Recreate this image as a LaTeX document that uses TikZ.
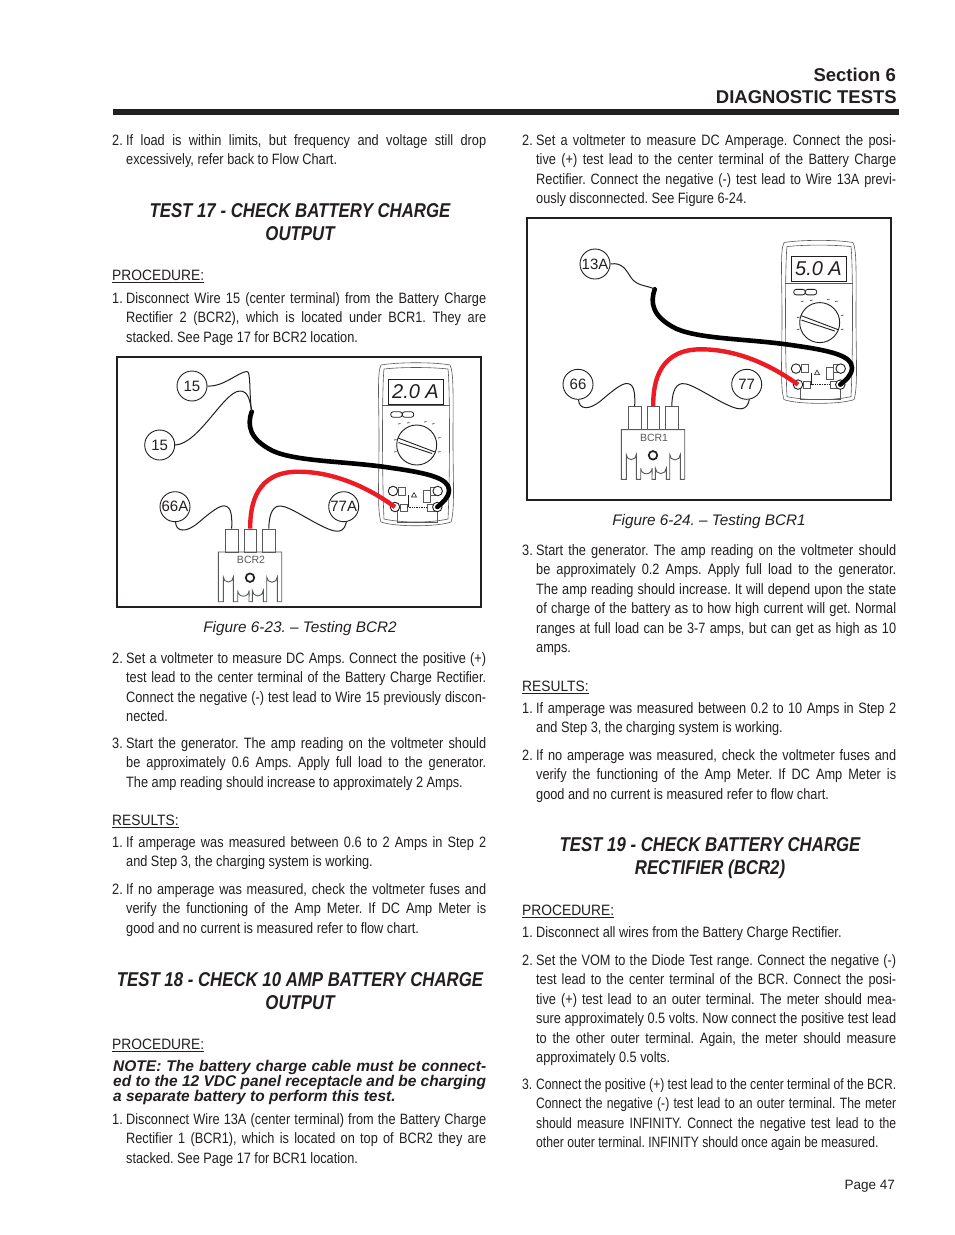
\documentclass[tikz,border=0pt]{standalone}
\usepackage{fontspec}
\usetikzlibrary{positioning, calc}
\setmainfont{Liberation Sans}
\newfontfamily\bodyfont[FakeStretch=0.85]{Liberation Sans}
\newfontfamily\tightfont[FakeStretch=0.81]{Liberation Sans}
\newfontfamily\capsfont[FakeStretch=0.92]{Liberation Sans}
\newfontfamily\testfont[FakeStretch=0.84]{Liberation Sans}
\definecolor{inkblack}{HTML}{231F20}
\definecolor{wirered}{HTML}{ED1C24}
\definecolor{metergrey}{HTML}{58595B}
\frenchspacing
\newcommand{\jl}[1]{\makebox[360pt][s]{\spaceskip=0pt\relax\strut #1}}
\newcommand{\nl}[1]{\spaceskip=0pt\relax\strut #1}
\newcommand{\num}[1]{\llap{\hbox to 14pt{#1\hfil}}}

\tikzset{
  para/.style={anchor=north west, inner sep=0pt, text width=360pt, align=left, text=inkblack,
    font=\bodyfont\fontsize{15}{19.55}\selectfont},
  parahead/.style={anchor=north west, inner sep=0pt, text=inkblack,
    font=\capsfont\fontsize{15}{19.55}\selectfont},
  testhead/.style={inner sep=0pt, align=center, text=inkblack,
    font=\testfont\bfseries\itshape\fontsize{20}{22.7}\selectfont},
  caption/.style={inner sep=0pt, text=inkblack, font=\itshape\fontsize{15.3}{18}\selectfont},
  frame/.style={draw=inkblack, line width=2pt},
  wirelabel/.style={circle, draw=inkblack, line width=0.9pt, minimum size=30pt, inner sep=0pt,
    text=inkblack, font=\fontsize{15}{16}\selectfont},
  thinwire/.style={draw=inkblack, line width=1pt},
  blackwire/.style={draw=black, line width=4.6pt, line cap=round},
  redwire/.style={draw=wirered, line width=4.4pt},
  bcrtab/.style={rectangle, draw=metergrey, line width=0.9pt, minimum width=12.5pt, minimum height=23pt, inner sep=0pt},
  jack/.style={circle, draw=inkblack, line width=0.9pt, fill=white, minimum size=9.5pt, inner sep=0pt},
  meterline/.style={draw=metergrey, line width=0.6pt},
  meterbtn/.style={rectangle, rounded corners=2.5pt, draw=inkblack, line width=0.8pt, minimum width=11.5pt, minimum height=5.5pt, inner sep=0pt},
  pics/chargerig/.style n args={4}{code={
    % rectifier
    \node (-tabl) [bcrtab] at (231.7,540.5) {};
    \node (-tabc) [bcrtab] at (250.2,540.5) {};
    \node (-tabr) [bcrtab] at (268.8,540.5) {};
    \draw [metergrey, line width=0.9pt] (281.7,601.7) -- (281.7,552) -- (218.3,552) -- (218.3,601.7) -- (223.3,601.7)
      -- (223.3,577) arc (180:0:5) -- (233.3,601.7) -- (237.7,601.7)
      -- (237.7,590.5) arc (180:0:5.7) -- (249,601.7) -- (252.3,601.7)
      -- (252.3,590.5) arc (180:0:5.5) -- (263.3,601.7) -- (266.7,601.7)
      -- (266.7,577) arc (180:0:5.3) -- (277.3,601.7) -- (281.7,601.7);
    \node (-bcr) [inner sep=0pt, text=metergrey, font=\fontsize{10.5}{12}\selectfont] at (251,560) {#4};
    \node (-hole) [circle, draw=inkblack, line width=1.7pt, minimum size=8.5pt, inner sep=0pt] at (250,577.7) {};
    % meter
    \draw [meterline] (381,365) .. controls (397,362) and (435,362) .. (450,365)
      .. controls (454,372) and (453,400) .. (453,440) .. controls (453,480) and (455,510) .. (451,522)
      .. controls (437,527) and (395,527) .. (381,522) .. controls (377,510) and (379,480) .. (379,440)
      .. controls (379,400) and (377,372) .. (381,365);
    \draw [meterline] (384,369) .. controls (402,367) and (430,367) .. (448,369)
      .. controls (450,385) and (450,480) .. (448,519)
      .. controls (430,523) and (402,523) .. (384,519)
      .. controls (382,480) and (382,385) .. (384,369);
    \draw [meterline] (382,405.7) -- (450,405.7);
    \node (-display) [rectangle, draw=inkblack, line width=0.9pt, minimum width=55pt, minimum height=25pt,
      inner sep=0pt, text=inkblack, font=\itshape\fontsize{20}{22}\selectfont] at (415.5,391.5) {#3};
    \node (-btna) [meterbtn] at (396.5,414.5) {};
    \node (-btnb) [meterbtn] at (408,414.5) {};
    \node (-dial) [circle, draw=inkblack, line width=0.9pt, minimum size=40pt, inner sep=0pt] at (416.7,445) {};
    \draw [inkblack, line width=0.9pt] (398,438) -- (435,452) (398.5,442.5) -- (432,453.5);
    \foreach \mx/\my in {398/424, 407/423, 424/422, 432/424, 394/440, 394/452, 438/438, 438/452}
      \draw [metergrey, line width=0.8pt] (\mx,\my) -- ++(2.5,-0.5);
    \draw [meterline] (398,487) rectangle (405,495);
    \draw [meterline] (430,487) rectangle (435,495);
    \draw [meterline] (400,504) rectangle (407,511);
    \draw [meterline] (427,504) rectangle (435,511);
    \draw [meterline] (423,490) rectangle (430,502);
    \draw [inkblack, line width=0.7pt] (408,495) -- (408,507);
    \draw [inkblack, line width=0.7pt, densely dotted] (407,507) -- (427,507);
    \draw [metergrey, line width=0.6pt] (397,511) -- (397,522) -- (437,522) -- (437,511);
    \draw [inkblack, line width=0.6pt] (411.5,497) -- (416.5,497) -- (414,492.5) -- cycle;
    \node (-jackul) [jack] at (393,491) {};
    \node (-jackur) [jack] at (437.7,491) {};
    \node (-jackred) [jack] at (395,507) {};
    \node (-jackblack) [jack] at (437.3,507) {};
    % wires
    \node (-left) [wirelabel] at (175,506.7) {#1};
    \node (-right) [wirelabel] at (343.7,506.7) {#2};
    \coordinate (-join) at (251.7,411.7);
    \draw [thinwire] (-left.-88) .. controls (176,532) and (186,533) .. (198,523) .. controls (212,511) and (220,505) .. (225,506)
      .. controls (232,507) and (232,518) .. (-tabl.north);
    \draw [thinwire] (-right.-80) .. controls (344,533) and (337,533) .. (326,528) .. controls (308,520) and (288,505) .. (279,506)
      .. controls (271,507) and (269,518) .. (-tabr.north);
    \draw [redwire] (-tabc.north) .. controls (250,503) and (257,471.7) .. (298,471.7) .. controls (338,471.7) and (373,491) .. (-jackred.center);
    \draw [blackwire] (-join) .. controls (247,425) and (249,439) .. (273,451) .. controls (298,462) and (347,461) .. (392,468)
      .. controls (427,473) and (449,478) .. (449,490) .. controls (449,498) and (442,503) .. (-jackblack.center);
  }}
}

\begin{document}
\begin{tikzpicture}[x=1pt, y=-1pt]
    \useasboundingbox (0,0) rectangle (954,1235);
    \fill [white] (0,0) rectangle (954,1235);

    % Page head
    \node (section) [anchor=east, inner sep=0pt, text=inkblack, font=\bfseries\fontsize{18.5}{20}\selectfont] at (896,74.5) {Section 6};
    \node (diag) [anchor=east, inner sep=0pt, text=inkblack, font=\bfseries\fontsize{18.5}{20}\selectfont] at (897,97) {DIAGNOSTIC TESTS};
    \fill [inkblack] (113,109) rectangle (899,115);

    % Left column
    \node (lefttwo) [para] at (126,131.3) {\jl{\num{2.}If load is within limits, but frequency and voltage still drop}\\
      \nl{excessively, refer back to Flow Chart.}};
    \node (testseventeen) [testhead] at (300,222) {TEST 17 - CHECK BATTERY CHARGE\\OUTPUT};
    \node (procone) [parahead] at (112,266.3) {\strut\underline{PROCEDURE:}};
    \node (stepone) [para] at (126,289.3) {\jl{\num{1.}Disconnect Wire 15 (center terminal) from the Battery Charge}\\
      \jl{Rectifier 2 (BCR2), which is located under BCR1. They are}\\
      \nl{stacked. See Page 17 for BCR2 location.}};
    \node (captwothree) [caption] at (300,628.5) {Figure 6-23. -- Testing BCR2};
    \node (steptwo) [para] at (126,649.3) {\jl{\num{2.}Set a voltmeter to measure DC Amps. Connect the positive (+)}\\
      \jl{test lead to the center terminal of the Battery Charge Rectifier.}\\
      \jl{Connect the negative (-) test lead to Wire 15 previously discon-}\\
      \nl{nected.}};
    \node (stepthree) [para] at (126,734.3) {\jl{\num{3.}Start the generator. The amp reading on the voltmeter should}\\
      \jl{be approximately 0.6 Amps. Apply full load to the generator.}\\
      \nl{The amp reading should increase to approximately 2 Amps.}};
    \node (resone) [parahead] at (112,811.3) {\strut\underline{RESULTS:}};
    \node (resonea) [para] at (126,833.3) {\jl{\num{1.}If amperage was measured between 0.6 to 2 Amps in Step 2}\\
      \nl{and Step 3, the charging system is working.}};
    \node (resoneb) [para] at (126,880.3) {\jl{\num{2.}If no amperage was measured, check the voltmeter fuses and}\\
      \jl{verify the functioning of the Amp Meter. If DC Amp Meter is}\\
      \nl{good and no current is measured refer to flow chart.}};
    \node (testeighteen) [testhead] at (300,991) {TEST 18 - CHECK 10 AMP BATTERY CHARGE\\OUTPUT};
    \node (proctwo) [parahead] at (112,1035.3) {\strut\underline{PROCEDURE:}};
    \node (note) [anchor=north west, inner sep=0pt, text width=374pt, align=left, text=inkblack,
      font=\bfseries\itshape\fontsize{15.5}{15}\selectfont] at (113,1060.5)
      {\makebox[373pt][s]{\spaceskip=0pt\relax NOTE: The battery charge cable must be connect-}\\
      \makebox[373pt][s]{\spaceskip=0pt\relax ed to the 12 VDC panel receptacle and be charging}\\
      \spaceskip=0pt\relax a separate battery to perform this test.};
    \node (stepfour) [para] at (126,1110.3) {\jl{\num{1.}Disconnect Wire 13A (center terminal) from the Battery Charge}\\
      \jl{Rectifier 1 (BCR1), which is located on top of BCR2 they are}\\
      \nl{stacked. See Page 17 for BCR1 location.}};

    % Right column
    \node (righttwo) [para] at (536,131.3) {\jl{\num{2.}Set a voltmeter to measure DC Amperage. Connect the posi-}\\
      \jl{tive (+) test lead to the center terminal of the Battery Charge}\\
      \jl{Rectifier. Connect the negative (-) test lead to Wire 13A previ-}\\
      \nl{ously disconnected. See Figure 6-24.}};
    \node (captwofour) [caption] at (709,521.5) {Figure 6-24. -- Testing BCR1};
    \node (rightthree) [para] at (536,541.3) {\jl{\num{3.}Start the generator. The amp reading on the voltmeter should}\\
      \jl{be approximately 0.2 Amps. Apply full load to the generator.}\\
      \jl{The amp reading should increase. It will depend upon the state}\\
      \jl{of charge of the battery as to how high current will get. Normal}\\
      \jl{ranges at full load can be 3-7 amps, but can get as high as 10}\\
      \nl{amps.}};
    \node (restwo) [parahead] at (522,677.3) {\strut\underline{RESULTS:}};
    \node (restwoa) [para] at (536,699.3) {\jl{\num{1.}If amperage was measured between 0.2 to 10 Amps in Step 2}\\
      \nl{and Step 3, the charging system is working.}};
    \node (restwob) [para] at (536,746.3) {\jl{\num{2.}If no amperage was measured, check the voltmeter fuses and}\\
      \jl{verify the functioning of the Amp Meter. If DC Amp Meter is}\\
      \nl{good and no current is measured refer to flow chart.}};
    \node (testnineteen) [testhead] at (710,858) {TEST 19 - CHECK BATTERY CHARGE\\RECTIFIER (BCR2)};
    \node (procthree) [parahead] at (522,901.3) {\strut\underline{PROCEDURE:}};
    \node (lastone) [para] at (536,923.3) {\nl{\num{1.}Disconnect all wires from the Battery Charge Rectifier.}};
    \node (lasttwo) [para] at (536,951.3) {\jl{\num{2.}Set the VOM to the Diode Test range. Connect the negative (-)}\\
      \jl{test lead to the center terminal of the BCR. Connect the posi-}\\
      \jl{tive (+) test lead to an outer terminal. The meter should mea-}\\
      \jl{sure approximately 0.5 volts. Now connect the positive test lead}\\
      \jl{to the other outer terminal. Again, the meter should measure}\\
      \nl{approximately 0.5 volts.}};
    \node (lastthree) [para, font=\tightfont\fontsize{15}{19.55}\selectfont] at (536,1075.3)
      {\jl{\num{3.}Connect the positive (+) test lead to the center terminal of the BCR.}\\
      \jl{Connect the negative (-) test lead to an outer terminal. The meter}\\
      \jl{should measure INFINITY. Connect the negative test lead to the}\\
      \nl{other outer terminal. INFINITY should once again be measured.}};
    \node (pagenum) [anchor=east, inner sep=0pt, text=inkblack, font=\fontsize{13.5}{15}\selectfont] at (895,1186) {Page 47};

    % Figure 6-23
    \draw [frame] (117,357) rectangle (481,607);
    \pic (bcrtwo) at (0,0) {chargerig={66A}{77A}{2.0 A}{BCR2}};
    \node (upperfifteen) [wirelabel] at (192,386) {15};
    \node (lowerfifteen) [wirelabel] at (159.7,445) {15};
    \draw [thinwire] (upperfifteen.east) .. controls (224,387) and (238,372) .. (247,371.5) .. controls (251,371) and (249,395) .. (bcrtwo-join);
    \draw [thinwire] (lowerfifteen.east) .. controls (199,444) and (224,391) .. (240,391) .. controls (248,391) and (250,400) .. (bcrtwo-join);

    % Figure 6-24
    \draw [frame] (527,218) rectangle (891,500);
    \pic (bcrone) at (403,-122.4) {chargerig={66}{77}{5.0 A}{BCR1}};
    \node (wirethirteen) [wirelabel] at (595,264) {13A};
    \draw [thinwire] (wirethirteen.east) .. controls (622,262) and (626,270) .. (630,276) .. controls (636,287) and (648,285) .. (bcrone-join);
\end{tikzpicture}
\end{document}
